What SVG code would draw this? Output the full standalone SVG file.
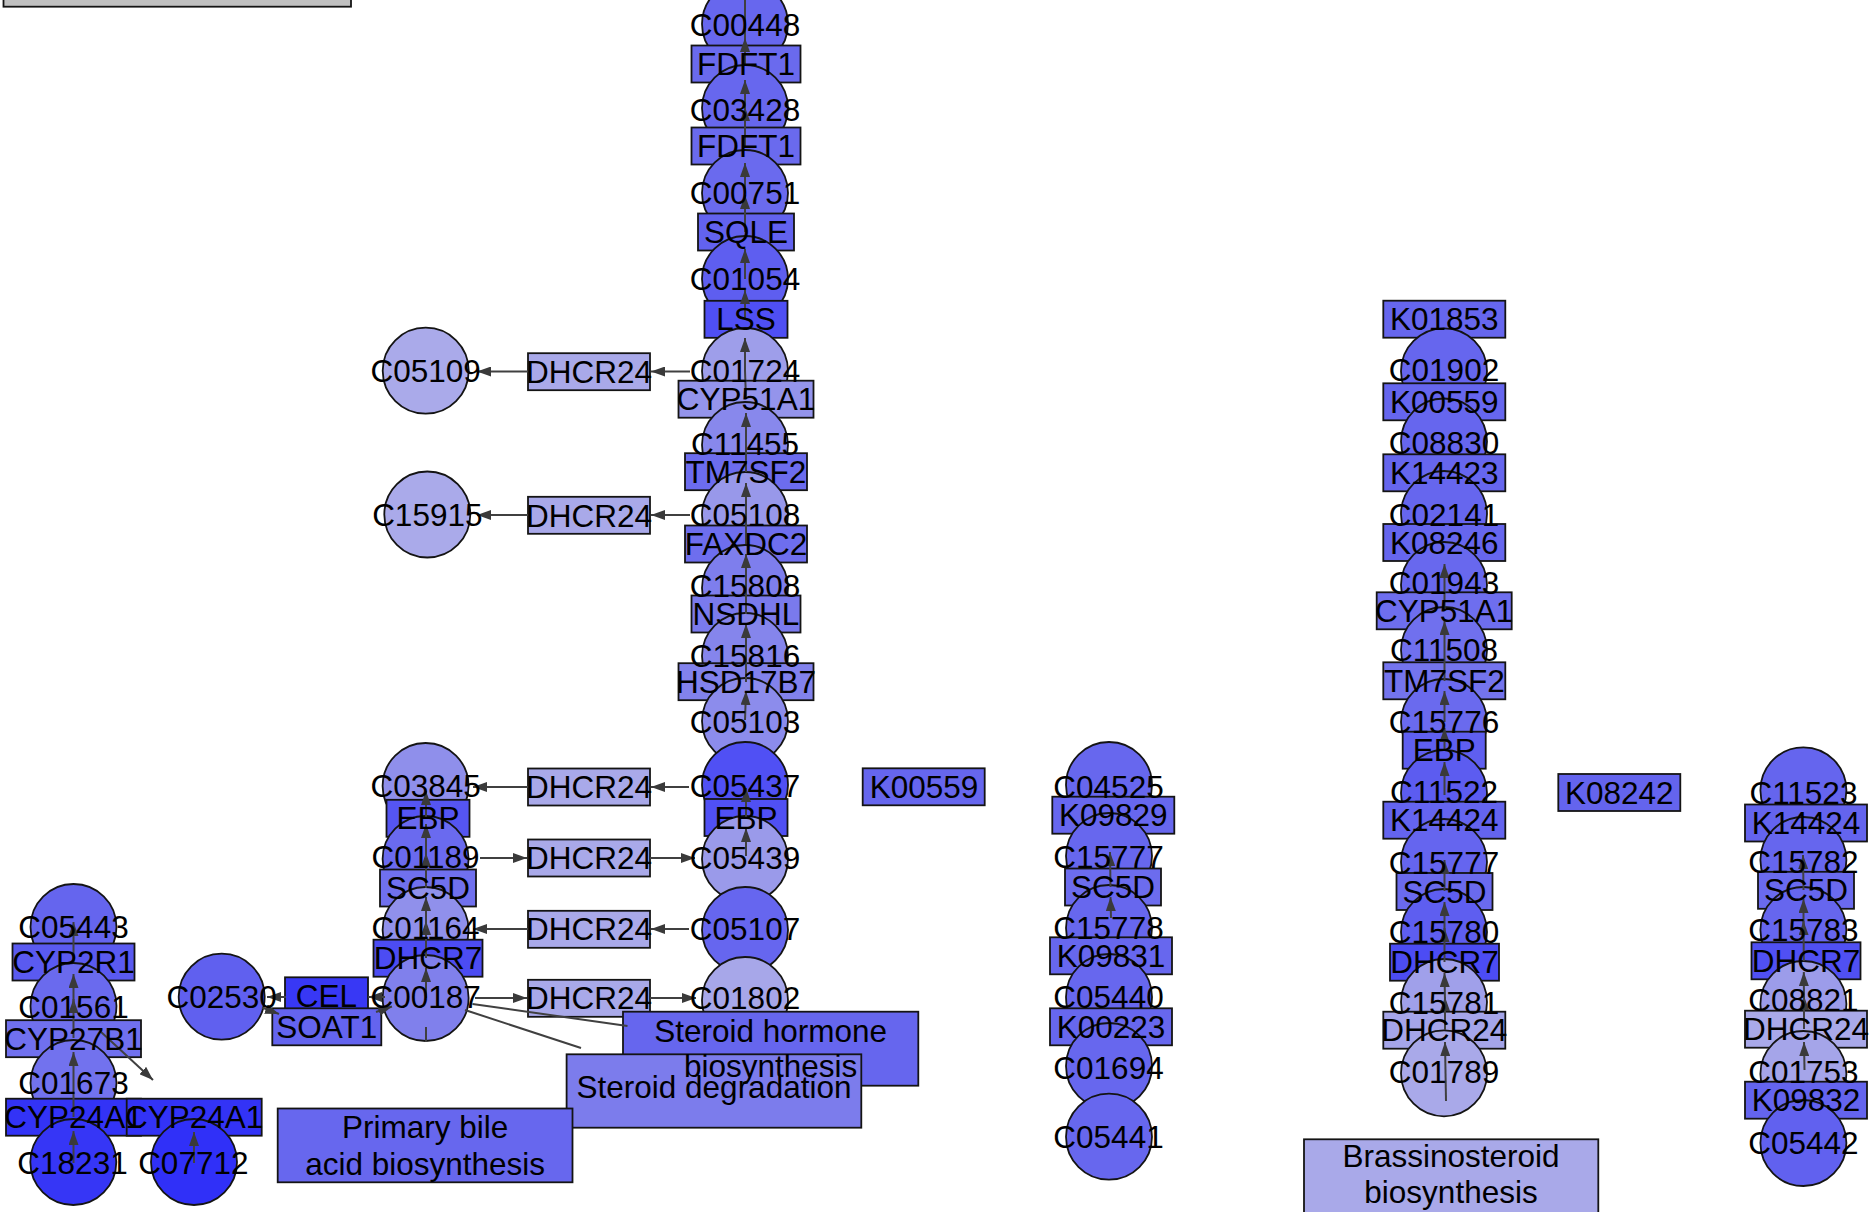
<svg xmlns="http://www.w3.org/2000/svg" width="1869" height="1212" viewBox="0 0 1869 1212">
<defs>
<style>
.s{stroke:#141414;stroke-width:1.8}
.e{stroke:#404040;stroke-width:2;fill:none}
.a{marker-end:url(#ah)}
text{font-family:"Liberation Sans",Arial,Helvetica,sans-serif;font-size:31.5px;fill:#000;text-anchor:middle}
</style>
<marker id="ah" viewBox="0 0 14 10" refX="14" refY="5" markerWidth="14" markerHeight="10" markerUnits="userSpaceOnUse" orient="auto"><path d="M0,0 L14,5 L0,10 z" fill="#3a3a3a"/></marker>
</defs>
<rect width="1869" height="1212" fill="#ffffff"/>
<g id="nodes">
<g id="n_legend"><rect class="s" x="3.5" y="-40" width="347.5" height="46.7" fill="#c0c0c0"/></g>
<!-- main column -->
<g id="n_C00448"><circle class="s" cx="745" cy="24" r="43" fill="#6767ee"/></g>
<g id="n_FDFT1_1"><rect class="s" x="691.5" y="45.5" width="109" height="37" fill="#6a6aee"/></g>
<g id="n_C03428"><circle class="s" cx="745" cy="108" r="43" fill="#6767ee"/></g>
<g id="n_FDFT1_2"><rect class="s" x="691.5" y="127.5" width="109" height="37" fill="#6a6aee"/></g>
<g id="n_C00751"><circle class="s" cx="745" cy="193" r="43" fill="#6a6aee"/></g>
<g id="n_SQLE"><rect class="s" x="698" y="213.5" width="96" height="37" fill="#6262ef"/></g>
<g id="n_C01054"><circle class="s" cx="745" cy="279" r="43" fill="#5e5ef0"/></g>
<g id="n_LSS"><rect class="s" x="704.5" y="300.8" width="83" height="37" fill="#4f4ff4"/></g>
<g id="n_C05109"><circle class="s" cx="425.7" cy="370.7" r="43" fill="#aaaaea"/></g>
<g id="n_DHCR24_1"><rect class="s" x="528" y="353.2" width="122" height="37" fill="#a9a9e9"/></g>
<g id="n_C01724"><circle class="s" cx="745" cy="371" r="43" fill="#9e9eea"/></g>
<g id="n_CYP51A1_1"><rect class="s" x="678.5" y="380.7" width="135" height="37" fill="#9494eb"/></g>
<g id="n_C11455"><circle class="s" cx="745" cy="445" r="43" fill="#8888ec"/></g>
<g id="n_TM7SF2_1"><rect class="s" x="685" y="453.2" width="122" height="37" fill="#6c6cee"/></g>
<g id="n_C15915"><circle class="s" cx="427.3" cy="514.5" r="43" fill="#aaaaea"/></g>
<g id="n_DHCR24_2"><rect class="s" x="528" y="496.8" width="122" height="37" fill="#a9a9e9"/></g>
<g id="n_C05108"><circle class="s" cx="745" cy="515" r="43" fill="#9898ea"/></g>
<g id="n_FAXDC2"><rect class="s" x="685" y="525.5" width="122" height="37" fill="#6e6eee"/></g>
<g id="n_C15808"><circle class="s" cx="745" cy="588" r="43" fill="#7e7eed"/></g>
<g id="n_NSDHL"><rect class="s" x="691.5" y="595.5" width="109" height="37" fill="#7a7aed"/></g>
<g id="n_C15816"><circle class="s" cx="745" cy="656" r="43" fill="#8585ec"/></g>
<g id="n_HSD17B7"><rect class="s" x="678.5" y="663.2" width="135" height="37" fill="#8282ec"/></g>
<g id="n_C05103"><circle class="s" cx="745" cy="721" r="43" fill="#8c8cec"/></g>
<g id="n_K00559_1"><rect class="s" x="862.7" y="768.3" width="122" height="37" fill="#6666ee"/></g>
<g id="n_C03845"><circle class="s" cx="425.6" cy="786" r="43" fill="#8f8feb"/></g>
<g id="n_DHCR24_3"><rect class="s" x="528" y="768.5" width="122" height="37" fill="#a9a9e9"/></g>
<g id="n_C05437"><circle class="s" cx="745" cy="785" r="43" fill="#5050f4"/></g>
<g id="n_EBP_1"><rect class="s" x="386.5" y="799.8" width="83" height="37" fill="#5555f2"/></g>
<g id="n_EBP_2"><rect class="s" x="704.5" y="799" width="83" height="37" fill="#5050f4"/></g>
<g id="n_C01189"><circle class="s" cx="425.6" cy="859" r="43" fill="#6a6aef"/></g>
<g id="n_DHCR24_4"><rect class="s" x="528" y="839.5" width="122" height="37" fill="#a9a9e9"/></g>
<g id="n_C05439"><circle class="s" cx="745" cy="859" r="43" fill="#9a9aea"/></g>
<g id="n_SC5D_1"><rect class="s" x="380" y="869.5" width="96" height="37" fill="#7070ee"/></g>
<g id="n_C01164"><circle class="s" cx="425.6" cy="930" r="43" fill="#9090eb"/></g>
<g id="n_DHCR24_5"><rect class="s" x="528" y="910.8" width="122" height="37" fill="#a9a9e9"/></g>
<g id="n_C05107"><circle class="s" cx="745" cy="930" r="43" fill="#6666ef"/></g>
<g id="n_DHCR7_1"><rect class="s" x="373.5" y="939.7" width="109" height="37" fill="#4c4cf3"/></g>
<g id="n_CEL"><rect class="s" x="285" y="977.3" width="83" height="37" fill="#3838f5"/></g>
<g id="n_C02530"><circle class="s" cx="221.7" cy="996.7" r="43" fill="#6060ef"/></g>
<g id="n_C00187"><circle class="s" cx="425.6" cy="998" r="43" fill="#8080ec"/></g>
<g id="n_DHCR24_6"><rect class="s" x="528" y="979.8" width="122" height="37" fill="#a9a9e9"/></g>
<g id="n_C01802"><circle class="s" cx="745" cy="1000" r="43" fill="#a7a7e9"/></g>
<g id="n_SOAT1"><rect class="s" x="272.3" y="1008.3" width="109" height="37" fill="#6464ef"/></g>
<!-- left-most column -->
<g id="n_C05443"><circle class="s" cx="73.5" cy="927" r="43" fill="#6565ee"/></g>
<g id="n_CYP2R1"><rect class="s" x="12.5" y="943.5" width="122" height="37" fill="#5a5af0"/></g>
<g id="n_C01561"><circle class="s" cx="73.5" cy="1006" r="43" fill="#6a6aee"/></g>
<g id="n_CYP27B1"><rect class="s" x="6" y="1020.2" width="135" height="37" fill="#7070ee"/></g>
<g id="n_C01673"><circle class="s" cx="73.5" cy="1083" r="43" fill="#7272ee"/></g>
<g id="n_CYP24A1_1"><rect class="s" x="6" y="1098.7" width="135" height="37" fill="#3333f6"/></g>
<g id="n_CYP24A1_2"><rect class="s" x="126.7" y="1098.7" width="135" height="37" fill="#3333f6"/></g>
<g id="n_C18231"><circle class="s" cx="73.3" cy="1162" r="43" fill="#3636f6"/></g>
<g id="n_C07712"><circle class="s" cx="194" cy="1162" r="43" fill="#3030f8"/></g>
<!-- pathway maps -->
<g id="n_steroid_hormone"><rect class="s" x="623" y="1011.7" width="295.3" height="74" fill="#6666ee"/></g>
<g id="n_steroid_degradation"><rect class="s" x="566.6" y="1054.3" width="294.7" height="73.4" fill="#7c7cec"/></g>
<g id="n_primary_bile"><rect class="s" x="277.7" y="1108.5" width="294.8" height="73.8" fill="#6767ee"/></g>
<!-- column 3 -->
<g id="n_C04525"><circle class="s" cx="1109" cy="785" r="43" fill="#6767ee"/></g>
<g id="n_K09829"><rect class="s" x="1052.3" y="796.7" width="122" height="37" fill="#6767ee"/></g>
<g id="n_C15777_1"><circle class="s" cx="1109" cy="856" r="43" fill="#6767ee"/></g>
<g id="n_SC5D_2"><rect class="s" x="1065" y="868.5" width="96" height="37" fill="#6c6cee"/></g>
<g id="n_C15778"><circle class="s" cx="1109" cy="928" r="43" fill="#6767ee"/></g>
<g id="n_K09831"><rect class="s" x="1050" y="937.3" width="122" height="37" fill="#6767ee"/></g>
<g id="n_C05440"><circle class="s" cx="1109" cy="997" r="43" fill="#6767ee"/></g>
<g id="n_K00223"><rect class="s" x="1050" y="1008.3" width="122" height="37" fill="#6767ee"/></g>
<g id="n_C01694"><circle class="s" cx="1109" cy="1066" r="43" fill="#6767ee"/></g>
<g id="n_C05441"><circle class="s" cx="1109" cy="1136.7" r="43" fill="#6767ee"/></g>
<!-- column 4 -->
<g id="n_K01853"><rect class="s" x="1383.3" y="300.7" width="122" height="37" fill="#6666ee"/></g>
<g id="n_C01902"><circle class="s" cx="1444" cy="371.3" r="43" fill="#6666ee"/></g>
<g id="n_K00559_2"><rect class="s" x="1383.3" y="383.3" width="122" height="37" fill="#6666ee"/></g>
<g id="n_C08830"><circle class="s" cx="1444" cy="441.5" r="43" fill="#6666ee"/></g>
<g id="n_K14423"><rect class="s" x="1383.3" y="454.3" width="122" height="37" fill="#6666ee"/></g>
<g id="n_C02141"><circle class="s" cx="1444" cy="514" r="43" fill="#6666ee"/></g>
<g id="n_K08246"><rect class="s" x="1383.3" y="524" width="122" height="37" fill="#6666ee"/></g>
<g id="n_C01943"><circle class="s" cx="1444" cy="585" r="43" fill="#6868ee"/></g>
<g id="n_CYP51A1_2"><rect class="s" x="1376.7" y="592.3" width="135" height="37" fill="#6e6eee"/></g>
<g id="n_C11508"><circle class="s" cx="1444" cy="650" r="43" fill="#7070ee"/></g>
<g id="n_TM7SF2_2"><rect class="s" x="1383.3" y="662.3" width="122" height="37" fill="#7474ed"/></g>
<g id="n_C15776"><circle class="s" cx="1444" cy="722" r="43" fill="#6a6aee"/></g>
<g id="n_EBP_3"><rect class="s" x="1402.7" y="731.7" width="83" height="37" fill="#5f5ff0"/></g>
<g id="n_C11522"><circle class="s" cx="1444" cy="793" r="43" fill="#5c5cf0"/></g>
<g id="n_K14424_1"><rect class="s" x="1383.3" y="801.7" width="122" height="37" fill="#6464ef"/></g>
<g id="n_C15777_2"><circle class="s" cx="1444" cy="862" r="43" fill="#6565ef"/></g>
<g id="n_SC5D_3"><rect class="s" x="1396.5" y="873" width="96" height="37" fill="#6a6aee"/></g>
<g id="n_C15780"><circle class="s" cx="1444" cy="932" r="43" fill="#5e5ef0"/></g>
<g id="n_DHCR7_2"><rect class="s" x="1390" y="943.7" width="109" height="37" fill="#4c4cf4"/></g>
<g id="n_C15781"><circle class="s" cx="1444" cy="1002" r="43" fill="#a0a0ea"/></g>
<g id="n_DHCR24_7"><rect class="s" x="1383.3" y="1011.7" width="122" height="37" fill="#a5a5e9"/></g>
<g id="n_C01789"><circle class="s" cx="1444" cy="1073.3" r="43" fill="#a9a9e9"/></g>
<g id="n_brassinosteroid"><rect class="s" x="1304" y="1139.3" width="294.3" height="74" fill="#a9a9e9"/></g>
<!-- column 5 -->
<g id="n_K08242"><rect class="s" x="1558.3" y="774" width="122" height="37" fill="#6464ee"/></g>
<g id="n_C11523"><circle class="s" cx="1803.4" cy="790.3" r="43" fill="#6565ee"/></g>
<g id="n_K14424_2"><rect class="s" x="1745" y="804.5" width="122" height="37" fill="#6464ee"/></g>
<g id="n_C15782"><circle class="s" cx="1803.4" cy="860" r="43" fill="#6666ee"/></g>
<g id="n_SC5D_4"><rect class="s" x="1758" y="871.8" width="96" height="37" fill="#6a6aee"/></g>
<g id="n_C15783"><circle class="s" cx="1803.4" cy="930" r="43" fill="#6666ee"/></g>
<g id="n_DHCR7_3"><rect class="s" x="1751.5" y="942.3" width="109" height="37" fill="#5050f3"/></g>
<g id="n_C08821"><circle class="s" cx="1803.4" cy="1004" r="43" fill="#9c9cea"/></g>
<g id="n_DHCR24_8"><rect class="s" x="1745" y="1010.7" width="122" height="37" fill="#a9a9e9"/></g>
<g id="n_C01753"><circle class="s" cx="1803.4" cy="1074" r="43" fill="#a5a5e9"/></g>
<g id="n_K09832"><rect class="s" x="1745" y="1081.7" width="122" height="37" fill="#6464ee"/></g>
<g id="n_C05442"><circle class="s" cx="1803.4" cy="1143" r="43" fill="#6161ef"/></g>
</g>
<g id="connectors">
<!-- main column -->
<path class="e" d="M745,38 L745,-5"/>
<path class="e a" d="M745,64 L745,38"/>
<path class="e a" d="M745,107 L745,80"/>
<path class="e a" d="M745,146 L745,107"/>
<path class="e a" d="M745,193 L745,163"/>
<path class="e a" d="M745,232 L745,195"/>
<path class="e a" d="M745,279 L745,249"/>
<path class="e a" d="M745,319 L745,290"/>
<path class="e a" d="M745,371 L745,338"/>
<path class="e" d="M746,399 L745,371"/>
<path class="e a" d="M746,445 L746,413"/>
<path class="e" d="M746,472 L746,445"/>
<path class="e a" d="M746,515 L746,483"/>
<path class="e" d="M746,544 L746,515"/>
<path class="e a" d="M746,586 L746,554"/>
<path class="e" d="M746,614 L746,586"/>
<path class="e a" d="M746,656 L746,624"/>
<path class="e" d="M746,682 L746,656"/>
<path class="e a" d="M745,720 L746,691"/>
<path class="e a" d="M746,818 L746,788"/>
<path class="e a" d="M746,856 L746,828"/>
<!-- DHCR24 side rows -->
<path class="e a" d="M690,371.5 L651,371.5"/>
<path class="e a" d="M528,371.5 L477,371.5"/>
<path class="e a" d="M690,515 L651,515"/>
<path class="e a" d="M528,515 L477,515"/>
<path class="e a" d="M689,787 L651,787"/>
<path class="e a" d="M528,787 L473,787"/>
<path class="e a" d="M480,858 L527,858"/>
<path class="e a" d="M650,858 L695,858"/>
<path class="e a" d="M689,929 L651,929"/>
<path class="e a" d="M528,929 L473,929"/>
<path class="e a" d="M475,998 L527,998"/>
<path class="e a" d="M650,998 L696,998"/>
<!-- left column -->
<path class="e a" d="M426,998 L426,968"/>
<path class="e a" d="M426,958 L426,921"/>
<path class="e a" d="M426,929 L426,897"/>
<path class="e a" d="M426,888 L426,853"/>
<path class="e a" d="M426,858 L426,824"/>
<path class="e a" d="M426,818 L426,791"/>
<path class="e" d="M426,1027 L426,1042"/>
<path class="e" d="M472.5,1004 L627.5,1026"/>
<path class="e" d="M465,1010 L581,1048"/>
<path class="e a" d="M385,997 L368,997"/>
<path class="e a" d="M286,997 L267,997"/>
<path class="e a" d="M262,1007.5 L279,1014"/>
<path class="e a" d="M376,1012 L392,1006.5"/>
<!-- left-most column -->
<path class="e a" d="M73.5,1163 L73.5,1131"/>
<path class="e" d="M73.5,1117 L73.5,1083"/>
<path class="e a" d="M73.5,1083 L73.5,1052"/>
<path class="e a" d="M73.5,1038 L73.5,999"/>
<path class="e a" d="M73.5,1006 L73.5,974"/>
<path class="e a" d="M73.5,962 L73.5,922"/>
<path class="e a" d="M100,1031 L153,1080"/>
<path class="e a" d="M194,1163 L194,1132"/>
<!-- column 3 -->
<path class="e a" d="M1111,918 L1110.5,897"/>
<path class="e a" d="M1110.5,887 L1110,852"/>
<!-- column 4 -->
<path class="e a" d="M1446,1101 L1445,1042"/>
<path class="e a" d="M1445,1030 L1445,997"/>
<path class="e a" d="M1445,1002 L1444.5,973"/>
<path class="e a" d="M1444.5,962 L1444.5,928"/>
<path class="e a" d="M1444.5,932 L1444.5,902"/>
<path class="e a" d="M1444.5,891 L1444.5,860"/>
<path class="e a" d="M1444.5,795 L1444.5,762"/>
<path class="e a" d="M1444.5,750 L1444.5,728"/>
<path class="e a" d="M1444.5,722 L1444.5,691"/>
<path class="e" d="M1444.5,681 L1444.5,650"/>
<path class="e a" d="M1444.5,650 L1444.5,621"/>
<path class="e" d="M1444.5,611 L1444.5,585"/>
<path class="e a" d="M1444.5,585 L1444.5,564"/>
<!-- column 5 -->
<path class="e a" d="M1804.5,1070 L1804,1042"/>
<path class="e a" d="M1804,1029 L1804,996"/>
<path class="e a" d="M1804,1003 L1803.8,972"/>
<path class="e a" d="M1803.8,961 L1803.5,921"/>
<path class="e a" d="M1803.5,930 L1803.5,899"/>
<path class="e a" d="M1803.5,890 L1803,855"/>
</g>
<g id="labels">
<text x="745" y="36">C00448</text>
<text x="746" y="75">FDFT1</text>
<text x="745" y="121">C03428</text>
<text x="746" y="157">FDFT1</text>
<text x="745" y="204">C00751</text>
<text x="746" y="243">SQLE</text>
<text x="745" y="289.5">C01054</text>
<text x="746" y="330">LSS</text>
<text x="745" y="382">C01724</text>
<text x="746" y="410">CYP51A1</text>
<text x="745" y="455">C11455</text>
<text x="746" y="483">TM7SF2</text>
<text x="745" y="526">C05108</text>
<text x="746" y="555">FAXDC2</text>
<text x="745" y="597">C15808</text>
<text x="746" y="625">NSDHL</text>
<text x="745" y="666.5">C15816</text>
<text x="746" y="693">HSD17B7</text>
<text x="745" y="732.5">C05103</text>
<text x="745" y="797">C05437</text>
<text x="746" y="829">EBP</text>
<text x="745" y="869">C05439</text>
<text x="745" y="940">C05107</text>
<text x="745" y="1009">C01802</text>
<text x="589" y="383">DHCR24</text>
<text x="589" y="526.5">DHCR24</text>
<text x="589" y="798">DHCR24</text>
<text x="589" y="869">DHCR24</text>
<text x="589" y="940">DHCR24</text>
<text x="589" y="1009">DHCR24</text>
<text x="924" y="798">K00559</text>
<text x="425.7" y="382">C05109</text>
<text x="427.3" y="526">C15915</text>
<text x="425.6" y="797">C03845</text>
<text x="428" y="829">EBP</text>
<text x="425.6" y="868">C01189</text>
<text x="428" y="899">SC5D</text>
<text x="425.6" y="939">C01164</text>
<text x="428" y="969">DHCR7</text>
<text x="425.6" y="1008">C00187</text>
<text x="221.7" y="1008">C02530</text>
<text x="326.5" y="1007">CEL</text>
<text x="326.8" y="1038">SOAT1</text>
<text x="73.5" y="937.7">C05443</text>
<text x="73.5" y="973">CYP2R1</text>
<text x="73.5" y="1017.7">C01561</text>
<text x="73.5" y="1050">CYP27B1</text>
<text x="73.5" y="1094.3">C01673</text>
<text x="73.5" y="1128">CYP24A1</text>
<text x="194.2" y="1128">CYP24A1</text>
<text x="72.5" y="1174">C18231</text>
<text x="193.3" y="1174">C07712</text>
<text x="770.6" y="1041.7">Steroid hormone</text>
<text x="770.6" y="1077">biosynthesis</text>
<text x="714" y="1098.3">Steroid degradation</text>
<text x="425.1" y="1138.3">Primary bile</text>
<text x="425.1" y="1175">acid biosynthesis</text>
<text x="1108.5" y="797.7">C04525</text>
<text x="1113.3" y="826.2">K09829</text>
<text x="1108.5" y="867.7">C15777</text>
<text x="1113" y="898">SC5D</text>
<text x="1108.5" y="939.3">C15778</text>
<text x="1111" y="966.8">K09831</text>
<text x="1108.5" y="1007.7">C05440</text>
<text x="1111" y="1037.8">K00223</text>
<text x="1108.5" y="1079.3">C01694</text>
<text x="1108.5" y="1147.7">C05441</text>
<text x="1444.3" y="330.2">K01853</text>
<text x="1444" y="381">C01902</text>
<text x="1444.3" y="412.8">K00559</text>
<text x="1444" y="454.3">C08830</text>
<text x="1444.3" y="483.8">K14423</text>
<text x="1444" y="526">C02141</text>
<text x="1444.3" y="553.5">K08246</text>
<text x="1444" y="594.3">C01943</text>
<text x="1444.2" y="621.8">CYP51A1</text>
<text x="1444" y="661">C11508</text>
<text x="1444.3" y="691.8">TM7SF2</text>
<text x="1444" y="732.7">C15776</text>
<text x="1444.2" y="761.2">EBP</text>
<text x="1444" y="802.7">C11522</text>
<text x="1444.3" y="831.2">K14424</text>
<text x="1444" y="874.3">C15777</text>
<text x="1444.5" y="902.5">SC5D</text>
<text x="1444" y="942.7">C15780</text>
<text x="1444.5" y="973.2">DHCR7</text>
<text x="1444" y="1013.7">C15781</text>
<text x="1444.3" y="1041.2">DHCR24</text>
<text x="1444" y="1082.7">C01789</text>
<text x="1451" y="1166.7">Brassinosteroid</text>
<text x="1451" y="1203">biosynthesis</text>
<text x="1619.3" y="803.5">K08242</text>
<text x="1803.4" y="804.3">C11523</text>
<text x="1806" y="834">K14424</text>
<text x="1803.4" y="872.7">C15782</text>
<text x="1806" y="901.3">SC5D</text>
<text x="1803.4" y="941">C15783</text>
<text x="1806" y="971.8">DHCR7</text>
<text x="1803.4" y="1011">C08821</text>
<text x="1806" y="1040.2">DHCR24</text>
<text x="1803.4" y="1082.7">C01753</text>
<text x="1806" y="1111.2">K09832</text>
<text x="1803.4" y="1154.3">C05442</text>
</g>
</svg>
